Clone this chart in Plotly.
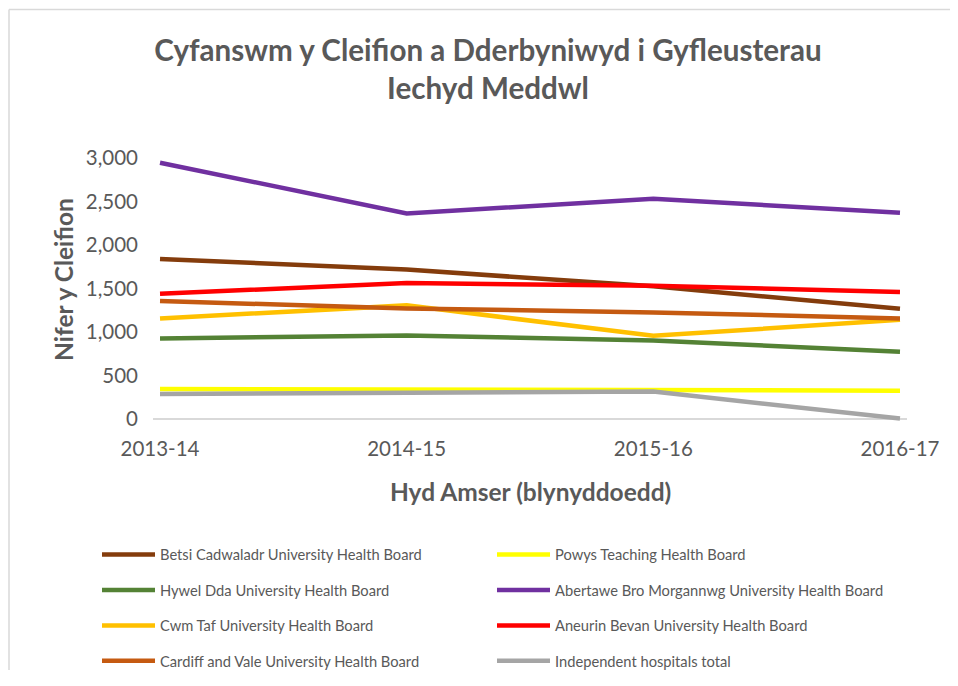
import plotly.graph_objects as go

years = ["2013-14", "2014-15", "2015-16", "2016-17"]

betsi = [1840, 1717, 1525, 1267]
powys = [345, 338, 332, 326]
hywel = [925, 960, 902, 772]
abertawe = [2946, 2362, 2531, 2370]
cwmtaf = [1156, 1306, 956, 1140]
aneurin = [1440, 1563, 1532, 1460]
cardiff = [1356, 1271, 1225, 1156]
independent = [288, 303, 315, 5]

names = [
    "Betsi Cadwaladr University Health Board",
    "Powys Teaching Health Board",
    "Hywel Dda University Health Board",
    "Abertawe Bro Morgannwg University Health Board",
    "Cwm Taf University Health Board",
    "Aneurin Bevan University Health Board",
    "Cardiff and Vale University Health Board",
    "Independent hospitals total",
]
series = [betsi, powys, hywel, abertawe, cwmtaf, aneurin, cardiff, independent]
colors = ["#843C0C", "#FFFF00", "#548235", "#7030A0",
          "#FFC000", "#FF0000", "#C55A11", "#A5A5A5"]
legends = ["legend", "legend2", "legend", "legend2",
           "legend", "legend2", "legend", "legend2"]

FONT = "Lato"
TXT = "#595959"

fig = go.Figure()
for i, (n, s, c, lg) in enumerate(zip(names, series, colors, legends)):
    fig.add_trace(go.Scatter(
        x=years, y=s, name=n, mode="lines",
        line=dict(color=c, width=4.5),
        legend=lg, legendgroup=f"g{i}",
        hoverinfo="x+y+name",
    ))

OFF = 8  # page body margin
W, H = 942, 662
ml, mt = 153 - OFF, 154 - OFF
mr = W - (907 - OFF)
mb = H - (422 - OFF)
pw = W - ml - mr
ph = H - mt - mb

def px_x(p):
    return (p - OFF - ml) / pw

def px_y(p):
    return (H - mb - (p - OFF)) / ph

legend_common = dict(
    orientation="v",
    font=dict(family=FONT, size=14.7, color=TXT),
    bgcolor="rgba(0,0,0,0)",
    tracegroupgap=13.3,
    itemwidth=53,
    xanchor="left", yanchor="top",
)

fig.update_layout(
    width=W, height=H,
    margin=dict(l=ml, r=mr, t=mt, b=mb, pad=0, autoexpand=False),
    paper_bgcolor="white", plot_bgcolor="white",
    font=dict(family=FONT, color=TXT),
    title=dict(
        text="<b>Cyfanswm y Cleifion a Dderbyniwyd i Gyfleusterau<br>Iechyd Meddwl</b>",
        x=(488 - OFF) / W, xanchor="center",
        y=1 - (61 - OFF) / H, yanchor="middle",
        font=dict(family=FONT, size=29.6, color=TXT),
    ),
    xaxis=dict(
        type="category",
        range=[-0.0284, 3.0284],
        showgrid=False, zeroline=False, showline=False,
        ticks="", ticklabelstandoff=12,
        tickfont=dict(family=FONT, size=20.5, color=TXT),
    ),
    yaxis=dict(
        range=[-34.5, 3046],
        tickvals=[0, 500, 1000, 1500, 2000, 2500, 3000],
        ticktext=["0", "500", "1,000", "1,500", "2,000", "2,500", "3,000"],
        showgrid=False, showline=False,
        zeroline=True, zerolinecolor="#D9D9D9", zerolinewidth=1.5,
        ticks="", ticklabelstandoff=14,
        tickfont=dict(family=FONT, size=20.5, color=TXT),
    ),
    legend=dict(x=px_x(97), y=px_y(538.5), **legend_common),
    legend2=dict(x=px_x(492), y=px_y(538.5), **legend_common),
    showlegend=True,
    annotations=[
        dict(text="<b>Nifer y Cleifion</b>", textangle=-90,
             x=px_x(63), y=px_y(280), xref="paper", yref="paper",
             xanchor="center", yanchor="middle", showarrow=False,
             font=dict(family=FONT, size=24.5, color=TXT)),
        dict(text="<b>Hyd Amser (blynyddoedd)</b>",
             x=px_x(530), y=px_y(491), xref="paper", yref="paper",
             xanchor="center", yanchor="middle", showarrow=False,
             font=dict(family=FONT, size=24.5, color=TXT)),
    ],
    shapes=[
        dict(type="line", xref="paper", yref="paper",
             x0=px_x(9), x1=px_x(8 + W), y0=px_y(9.5), y1=px_y(9.5),
             line=dict(color="#D9D9D9", width=1.5)),
        dict(type="line", xref="paper", yref="paper",
             x0=px_x(9), x1=px_x(9), y0=px_y(9.5), y1=px_y(8 + H),
             line=dict(color="#D9D9D9", width=1.5)),
    ],
)

fig.write_html("out.html", config={"displayModeBar": False})
